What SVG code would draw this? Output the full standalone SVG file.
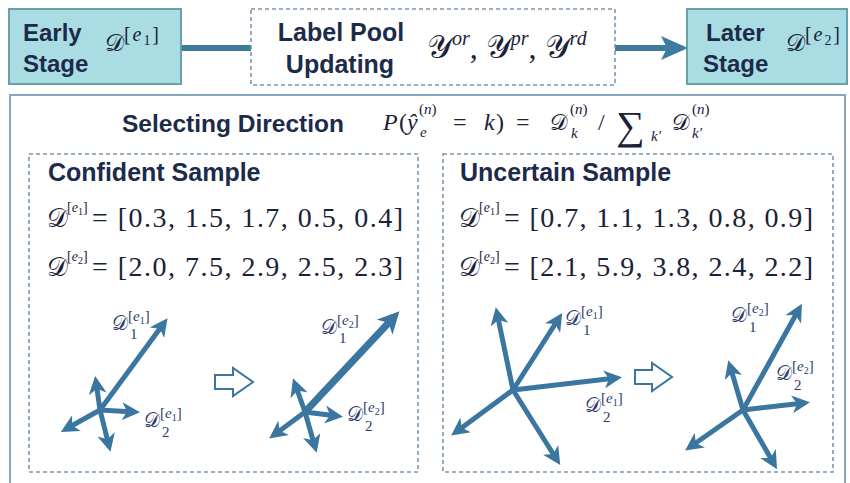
<svg xmlns="http://www.w3.org/2000/svg" width="850" height="483" viewBox="0 0 850 483">
<style>
.stage{fill:#aadde3;stroke:#6a9fae;stroke-width:2}
.dash{fill:none;stroke:#7b97b0;stroke-width:1.6;stroke-dasharray:4 3}
.lbl{font-family:"Liberation Sans",Arial,sans-serif;font-weight:bold;fill:#1c2b4a}
.m{font-family:"Liberation Serif","DejaVu Serif",serif;fill:#1a2238}
.i{font-style:italic}
.ml{font-family:"Liberation Serif","DejaVu Serif",serif;fill:#2b3c6a}
.ar{stroke:#3b76a0;stroke-width:5;fill:none;marker-end:url(#ah)}
.arT{stroke:#3b76a0;stroke-width:7;fill:none;marker-end:url(#ahL)}
.hollow{fill:#fff;stroke:#3b76a0;stroke-width:2;stroke-linejoin:miter}
</style>
<defs>
<marker id="ah" viewBox="0 0 18 18" refX="12" refY="9" markerWidth="18" markerHeight="18" markerUnits="userSpaceOnUse" orient="auto"><path d="M18,9 L0,0 L5,9 L0,18 Z" fill="#3b76a0"/></marker>
<marker id="ahL" viewBox="0 0 22 22" refX="14" refY="11" markerWidth="22" markerHeight="22" markerUnits="userSpaceOnUse" orient="auto"><path d="M22,11 L0,0 L6,11 L0,22 Z" fill="#3b76a0"/></marker>
</defs>
<rect width="850" height="483" fill="#fff"/>

<g id="connectors">
<line x1="181" y1="48" x2="251" y2="48" stroke="#3f7aa0" stroke-width="6"/>
<line x1="615" y1="48" x2="668" y2="48" stroke="#3f7aa0" stroke-width="6"/>
<path d="M688,48 L661,36 L667,48 L661,60 Z" fill="#3f7aa0"/>
</g>

<g id="early">
<rect class="stage" x="9" y="9" width="172" height="75"/>
<text class="lbl" x="23" y="41" font-size="24">Early</text>
<text class="lbl" x="23" y="72" font-size="24">Stage</text>
<text class="m" x="105" y="51" font-size="24">𝒟</text>
<text class="m" x="124" y="41" font-size="20" textLength="35">[<tspan class="i">e</tspan><tspan font-size="14" dy="4">1</tspan><tspan dy="-4">]</tspan></text>
</g>

<g id="pool">
<rect class="dash" x="251" y="9" width="364" height="76"/>
<text class="lbl" x="341" y="41" font-size="25" text-anchor="middle">Label Pool</text>
<text class="lbl" x="340" y="73" font-size="25" text-anchor="middle">Updating</text>
<text class="m" x="427" y="58" font-size="32">𝒴<tspan class="i" font-size="20" dy="-13">or</tspan><tspan dy="13">, 𝒴</tspan><tspan class="i" font-size="20" dy="-13">pr</tspan><tspan dy="13">, 𝒴</tspan><tspan class="i" font-size="20" dy="-13">rd</tspan></text>
</g>

<g id="later">
<rect class="stage" x="687" y="9" width="160" height="75"/>
<text class="lbl" x="706" y="41" font-size="24">Later</text>
<text class="lbl" x="703" y="72" font-size="24">Stage</text>
<text class="m" x="786" y="51" font-size="24">𝒟</text>
<text class="m" x="805" y="41" font-size="20" textLength="35">[<tspan class="i">e</tspan><tspan font-size="14" dy="4">2</tspan><tspan dy="-4">]</tspan></text>
</g>

<g id="selecting">
<rect x="10" y="95" width="835" height="400" fill="none" stroke="#86a7bd" stroke-width="2"/>
<text class="lbl" x="122" y="132" font-size="24.5">Selecting Direction</text>
<g class="m" font-size="24">
<text class="i" x="383" y="130">P</text>
<text x="399" y="130">(</text>
<text class="i" x="407" y="130">ŷ</text>
<text x="419" y="114" font-size="15">(<tspan class="i">n</tspan>)</text>
<text class="i" x="420" y="137" font-size="15">e</text>
<text x="453" y="130">=</text>
<text class="i" x="484" y="130">k</text>
<text x="496" y="130">)</text>
<text x="516" y="130">=</text>
<text x="550" y="130" font-size="22">𝒟</text>
<text x="570" y="114" font-size="15">(<tspan class="i">n</tspan>)</text>
<text class="i" x="571" y="138" font-size="15">k</text>
<text x="598" y="130">/</text>
<text x="616" y="139" font-size="40">∑</text>
<text class="i" x="651" y="141" font-size="15">k′</text>
<text x="672" y="130" font-size="22">𝒟</text>
<text x="692" y="114" font-size="15">(<tspan class="i">n</tspan>)</text>
<text class="i" x="692" y="138" font-size="15">k′</text>
</g>
</g>

<g id="confident">
<rect class="dash" x="29" y="154" width="389" height="318"/>
<text class="lbl" x="48" y="181" font-size="25">Confident Sample</text>
<text class="m" x="47" y="227" font-size="26">𝒟</text>
<text class="m" x="67" y="212" font-size="14">[<tspan class="i">e</tspan><tspan font-size="10" dy="3">1</tspan><tspan dy="-3">]</tspan></text>
<text class="m" x="92" y="227" font-size="28" textLength="311">= [0.3, 1.5, 1.7, 0.5, 0.4]</text>
<text class="m" x="47" y="276" font-size="26">𝒟</text>
<text class="m" x="67" y="261" font-size="14">[<tspan class="i">e</tspan><tspan font-size="10" dy="3">2</tspan><tspan dy="-3">]</tspan></text>
<text class="m" x="92" y="276" font-size="28" textLength="311">= [2.0, 7.5, 2.9, 2.5, 2.3]</text>
<g id="conf-e1">
<line class="ar" x1="100" y1="410" x2="96" y2="382"/>
<line class="ar" x1="100" y1="410" x2="134" y2="412"/>
<line class="ar" x1="100" y1="410" x2="109" y2="446"/>
<line class="ar" x1="100" y1="410" x2="66" y2="429"/>
<line class="ar" x1="100" y1="410" x2="164" y2="323"/>
<text class="ml" x="112" y="330" font-size="20">𝒟</text>
<text class="ml" x="128" y="321" font-size="15">[<tspan class="i">e</tspan><tspan font-size="10" dy="3">1</tspan><tspan dy="-3">]</tspan></text>
<text class="ml" x="130" y="339" font-size="15">1</text>
<text class="ml" x="144" y="427" font-size="20">𝒟</text>
<text class="ml" x="160" y="418" font-size="15">[<tspan class="i">e</tspan><tspan font-size="10" dy="3">1</tspan><tspan dy="-3">]</tspan></text>
<text class="ml" x="162" y="437" font-size="15">2</text>
</g>
<polygon class="hollow" points="215,375 233,375 233,368 253,382 233,396 233,389 215,389"/>
<g id="conf-e2">
<line class="ar" x1="305" y1="412" x2="295" y2="384"/>
<line class="ar" x1="305" y1="412" x2="337" y2="416"/>
<line class="ar" x1="305" y1="412" x2="315" y2="447"/>
<line class="ar" x1="305" y1="412" x2="274" y2="435"/>
<line class="arT" x1="305" y1="412" x2="394" y2="317"/>
<text class="ml" x="321" y="334" font-size="20">𝒟</text>
<text class="ml" x="337" y="325" font-size="15">[<tspan class="i">e</tspan><tspan font-size="10" dy="3">2</tspan><tspan dy="-3">]</tspan></text>
<text class="ml" x="339" y="343" font-size="15">1</text>
<text class="ml" x="347" y="421" font-size="20">𝒟</text>
<text class="ml" x="363" y="412" font-size="15">[<tspan class="i">e</tspan><tspan font-size="10" dy="3">2</tspan><tspan dy="-3">]</tspan></text>
<text class="ml" x="365" y="431" font-size="15">2</text>
</g>
</g>

<g id="uncertain">
<rect class="dash" x="443" y="154" width="390" height="318"/>
<text class="lbl" x="460" y="181" font-size="25">Uncertain Sample</text>
<text class="m" x="459" y="227" font-size="26">𝒟</text>
<text class="m" x="479" y="212" font-size="14">[<tspan class="i">e</tspan><tspan font-size="10" dy="3">1</tspan><tspan dy="-3">]</tspan></text>
<text class="m" x="504" y="227" font-size="28" textLength="309">= [0.7, 1.1, 1.3, 0.8, 0.9]</text>
<text class="m" x="459" y="276" font-size="26">𝒟</text>
<text class="m" x="479" y="261" font-size="14">[<tspan class="i">e</tspan><tspan font-size="10" dy="3">2</tspan><tspan dy="-3">]</tspan></text>
<text class="m" x="504" y="276" font-size="28" textLength="309">= [2.1, 5.9, 3.8, 2.4, 2.2]</text>
<g id="unc-e1">
<line class="ar" x1="513" y1="390" x2="497" y2="313"/>
<line class="ar" x1="513" y1="390" x2="559" y2="318"/>
<line class="ar" x1="513" y1="390" x2="616" y2="378"/>
<line class="ar" x1="513" y1="390" x2="456" y2="432"/>
<line class="ar" x1="513" y1="390" x2="557" y2="460"/>
<text class="ml" x="565" y="325" font-size="20">𝒟</text>
<text class="ml" x="581" y="316" font-size="15">[<tspan class="i">e</tspan><tspan font-size="10" dy="3">1</tspan><tspan dy="-3">]</tspan></text>
<text class="ml" x="583" y="335" font-size="15">1</text>
<text class="ml" x="585" y="412" font-size="20">𝒟</text>
<text class="ml" x="601" y="403" font-size="15">[<tspan class="i">e</tspan><tspan font-size="10" dy="3">1</tspan><tspan dy="-3">]</tspan></text>
<text class="ml" x="603" y="422" font-size="15">2</text>
</g>
<polygon class="hollow" points="635,370 652,370 652,363 672,377 652,391 652,384 635,384"/>
<g id="unc-e2">
<line class="ar" x1="743" y1="410" x2="799" y2="309"/>
<line class="ar" x1="743" y1="410" x2="730" y2="366"/>
<line class="ar" x1="743" y1="410" x2="804" y2="403"/>
<line class="ar" x1="743" y1="410" x2="690" y2="447"/>
<line class="ar" x1="743" y1="410" x2="774" y2="464"/>
<text class="ml" x="731" y="322" font-size="20">𝒟</text>
<text class="ml" x="747" y="313" font-size="15">[<tspan class="i">e</tspan><tspan font-size="10" dy="3">2</tspan><tspan dy="-3">]</tspan></text>
<text class="ml" x="749" y="332" font-size="15">1</text>
<text class="ml" x="776" y="380" font-size="20">𝒟</text>
<text class="ml" x="792" y="371" font-size="15">[<tspan class="i">e</tspan><tspan font-size="10" dy="3">2</tspan><tspan dy="-3">]</tspan></text>
<text class="ml" x="794" y="390" font-size="15">2</text>
</g>
</g>
</svg>
